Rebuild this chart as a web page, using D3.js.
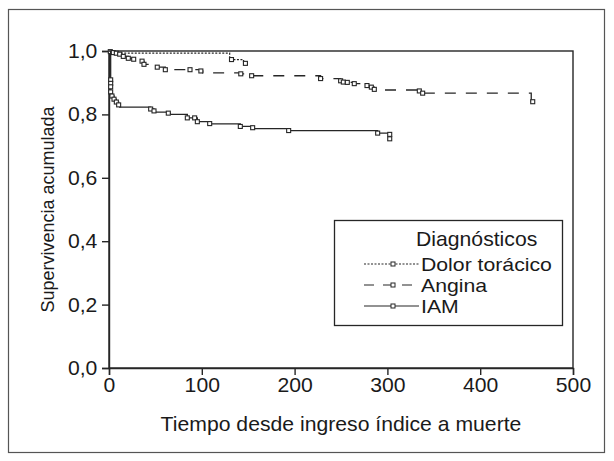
<!DOCTYPE html>
<html>
<head>
<meta charset="utf-8">
<script src="https://cdn.jsdelivr.net/npm/d3@7"></script>
<style>
  html, body { margin: 0; padding: 0; background: #fff; }
  svg { display: block; font-family: "Liberation Sans", Arial, sans-serif; }
</style>
</head>
<body>
<div id="chart"></div>
<script>
// Kaplan-Meier curves: step points (time, survival) and censored marks

const dolorTimes = [0, 2, 130, 145, 147];
const dolorSurv = [1, 0.993, 0.973, 0.961, 0.961];
const dolorCensTimes = [132, 147];
const dolorCensSurv = [0.973, 0.961];

const anginaTimes = [0, 1.4, 4.6, 7.9, 11.5, 15.4, 20.8, 26.6, 35.6, 37.7, 52, 60.7, 87.3, 99, 101,
  142, 153.7, 228, 249.6, 252.5, 256.8, 264.3, 278, 282.7, 285.9, 287, 334.4, 338, 455, 456.6];
const anginaSurv = [1, 0.998, 0.995, 0.993, 0.99, 0.983, 0.977, 0.974, 0.968, 0.958, 0.949, 0.941, 0.941, 0.937, 0.931,
  0.928, 0.922, 0.913, 0.906, 0.902, 0.901, 0.897, 0.891, 0.886, 0.879, 0.877, 0.874, 0.867, 0.84, 0.84];
const anginaCensTimes = [1.4, 4.6, 7.9, 11.5, 15.4, 20.8, 26.6, 35.6, 37.7, 52, 60.7, 87.3, 99,
  142, 153.7, 228, 249.6, 252.5, 256.8, 264.3, 278, 282.7, 285.9, 334.4, 338, 456.6];
const anginaCensSurv = [0.998, 0.995, 0.993, 0.99, 0.983, 0.977, 0.974, 0.968, 0.958, 0.949, 0.941, 0.941, 0.937,
  0.928, 0.922, 0.913, 0.906, 0.902, 0.901, 0.897, 0.891, 0.886, 0.879, 0.874, 0.867, 0.84];

const iamTimes = [0, 1.8, 1.8, 1.8, 1.8, 3.2, 5.4, 7.9, 10.4, 11.5, 44.9, 48.5, 50, 63.9, 66, 84.4, 92.3, 95.2,
  108.5, 110, 141.5, 154.8, 156, 193.6, 289.5, 302.5, 302.5];
const iamSurv = [1, 0.909, 0.898, 0.887, 0.871, 0.858, 0.848, 0.839, 0.83, 0.823, 0.817, 0.811, 0.807, 0.804, 0.8, 0.789, 0.789, 0.777,
  0.771, 0.77, 0.762, 0.758, 0.755, 0.749, 0.741, 0.737, 0.723];
const iamCensTimes = [1.8, 1.8, 1.8, 1.8, 3.2, 5.4, 7.9, 10.4, 44.9, 48.5, 63.9, 84.4, 92.3, 95.2, 108.5,
  141.5, 154.8, 193.6, 289.5, 302.5, 302.5];
const iamCensSurv = [0.909, 0.898, 0.887, 0.871, 0.858, 0.848, 0.839, 0.83, 0.817, 0.811, 0.804, 0.789, 0.789, 0.777, 0.771,
  0.762, 0.758, 0.749, 0.741, 0.737, 0.723];

const xTicks = [0, 100, 200, 300, 400, 500];
const yTicks = [0, 0.2, 0.4, 0.6, 0.8, 1.0];

const series = [
  { name: 'Dolor torácico', t: dolorTimes, s: dolorSurv, ct: dolorCensTimes, cs: dolorCensSurv, dash: '2,1.5' },
  { name: 'Angina', t: anginaTimes, s: anginaSurv, ct: anginaCensTimes, cs: anginaCensSurv, dash: '11,10' },
  { name: 'IAM', t: iamTimes, s: iamSurv, ct: iamCensTimes, cs: iamCensSurv, dash: null }
];

const width = 614, height = 461;
const ink = '#262626';
const textInk = '#1a1a1a';
const fontSize = '20px';

// widen a text element horizontally around its anchor x
// (the figure's lettering is a little wider than plain Arial)
function widen(sel, ax, k) {
  sel.attr('transform', `translate(${ax},0) scale(${k},1) translate(${-ax},0)`);
}

const svg = d3.select('#chart').append('svg')
  .attr('width', width)
  .attr('height', height);

// outer frame
svg.append('rect')
  .attr('x', 8.5).attr('y', 9.5)
  .attr('width', 596).attr('height', 443)
  .attr('fill', 'none').attr('stroke', '#555').attr('stroke-width', 1.2);

const x = d3.scaleLinear().domain([0, 500]).range([109, 573]);
const y = d3.scaleLinear().domain([0, 1]).range([368, 51]);

// plot box
svg.append('rect')
  .attr('x', x(0)).attr('y', y(1))
  .attr('width', x(500) - x(0)).attr('height', y(0) - y(1))
  .attr('fill', 'none').attr('stroke', ink).attr('stroke-width', 1.4);

const fmt = d => d3.format('.1f')(d).replace('.', ',');

const gx = svg.append('g')
  .attr('transform', `translate(0,${y(0)})`)
  .call(d3.axisBottom(x).tickValues(xTicks).tickSize(7).tickPadding(3).tickFormat(d3.format('d')));
const gy = svg.append('g')
  .attr('transform', `translate(${x(0)},0)`)
  .call(d3.axisLeft(y).tickValues(yTicks).tickSize(7).tickPadding(4).tickFormat(fmt));

[gx, gy].forEach(g => {
  g.select('.domain').attr('stroke', ink).attr('stroke-width', 1.4);
  g.selectAll('.tick line').attr('stroke', ink).attr('stroke-width', 1.4);
  g.selectAll('.tick text')
    .attr('fill', textInk)
    .attr('font-size', fontSize)
    .attr('font-family', '"Liberation Sans", Arial, sans-serif')
    .each(function () { widen(d3.select(this), 0, 1.06); });
});

// axis titles
const xt = svg.append('text')
  .attr('x', 341).attr('y', 431)
  .attr('text-anchor', 'middle')
  .attr('fill', textInk)
  .attr('font-size', fontSize)
  .text('Tiempo desde ingreso índice a muerte');
widen(xt, 341, 1.06);

svg.append('text')
  .attr('transform', `translate(54,${(y(0) + y(1)) / 2}) rotate(-90)`)
  .attr('text-anchor', 'middle')
  .attr('fill', textInk)
  .attr('font-size', '18px')
  .text('Supervivencia acumulada');

// curves
const line = d3.line()
  .x(d => x(d[0]))
  .y(d => y(d[1]))
  .curve(d3.curveStepAfter);

series.forEach(sr => {
  const pts = sr.t.map((t, i) => [t, sr.s[i]]);
  svg.append('path')
    .attr('d', line(pts))
    .attr('fill', 'none')
    .attr('stroke', ink)
    .attr('stroke-width', 1.3)
    .attr('stroke-dasharray', sr.dash);

  svg.append('g').selectAll('rect')
    .data(sr.ct.map((t, i) => [t, sr.cs[i]]))
    .join('rect')
    .attr('x', d => x(d[0]) - 2)
    .attr('y', d => y(d[1]) - 2)
    .attr('width', 4).attr('height', 4)
    .attr('fill', '#fff')
    .attr('stroke', ink)
    .attr('stroke-width', 1.1);
});

// legend
const lg = svg.append('g');
lg.append('rect')
  .attr('x', 334.5).attr('y', 220.5)
  .attr('width', 228).attr('height', 105)
  .attr('fill', '#fff').attr('stroke', ink).attr('stroke-width', 1.3);

const lt = lg.append('text')
  .attr('x', 416).attr('y', 246)
  .attr('fill', textInk)
  .attr('font-size', fontSize)
  .text('Diagnósticos');
widen(lt, 416, 1.06);

series.forEach((sr, i) => {
  const ly = 264 + i * 21;
  lg.append('line')
    .attr('x1', 364).attr('x2', 419)
    .attr('y1', ly).attr('y2', ly)
    .attr('stroke', ink).attr('stroke-width', 1.2)
    .attr('stroke-dasharray', sr.dash === '11,10' ? '10,9' : sr.dash);
  lg.append('rect')
    .attr('x', 391).attr('y', ly - 2)
    .attr('width', 4).attr('height', 4)
    .attr('fill', '#fff').attr('stroke', ink).attr('stroke-width', 1);
  const tx = lg.append('text')
    .attr('x', 421).attr('y', ly + 7)
    .attr('fill', textInk)
    .attr('font-size', '18px')
    .text(sr.name);
  widen(tx, 421, 1.18);
});
</script>
</body>
</html>
